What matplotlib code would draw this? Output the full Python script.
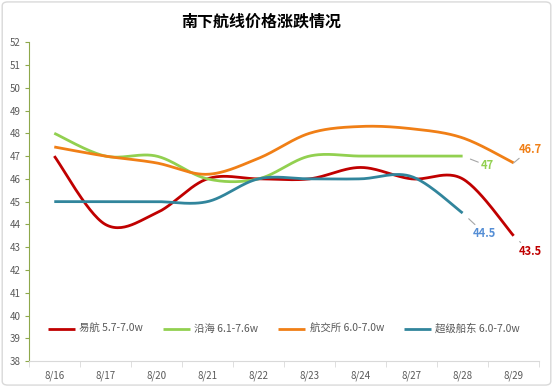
import numpy as np
import matplotlib.pyplot as plt
from matplotlib.patches import FancyBboxPatch

plt.rcParams['font.family'] = ['Noto Sans CJK SC', 'DejaVu Sans']

# datos
fechas = ['8/16', '8/17', '8/20', '8/21', '8/22', '8/23', '8/24', '8/27', '8/28', '8/29']
yihang = [47, 44, 44.5, 46, 46, 46, 46.5, 46, 46, 43.5]
yanhai = [48, 47, 47, 46, 46, 47, 47, 47, 47]
hangjiaosuo = [47.4, 47, 46.7, 46.2, 46.9, 48, 48.3, 48.2, 47.8, 46.7]
chaoji = [45, 45, 45, 45, 46, 46, 46, 46.1, 44.5]

nombres = ['易航 5.7-7.0w', '沿海 6.1-7.6w', '航交所 6.0-7.0w', '超级船东 6.0-7.0w']
colores = ['#C00000', '#92D050', '#F07F16', '#31859C']
color_etiqueta = ['#C00000', '#92D050', '#F07F16', '#558ED5']
# desplazamiento de las etiquetas finales (puntos)
offsets = [(12, -11.5), (18, -7), (12, 10), (16, -15)]


def suavizar(y, n=30):
    # curva tipo Excel (Catmull-Rom con tramos Bezier)
    x = np.arange(len(y), dtype=float)
    y = np.asarray(y, dtype=float)
    px, py = [], []
    for i in range(len(y) - 1):
        x0, y0 = x[max(i - 1, 0)], y[max(i - 1, 0)]
        x3, y3 = x[min(i + 2, len(y) - 1)], y[min(i + 2, len(y) - 1)]
        c1x = x[i] + (x[i + 1] - x0) / 6
        c1y = y[i] + (y[i + 1] - y0) / 6
        c2x = x[i + 1] - (x3 - x[i]) / 6
        c2y = y[i + 1] - (y3 - y[i]) / 6
        t = np.linspace(0, 1, n)
        bx = (1-t)**3*x[i] + 3*(1-t)**2*t*c1x + 3*(1-t)*t**2*c2x + t**3*x[i+1]
        by = (1-t)**3*y[i] + 3*(1-t)**2*t*c1y + 3*(1-t)*t**2*c2y + t**3*y[i+1]
        px.extend(bx)
        py.extend(by)
    return px, py


fig = plt.figure(figsize=(5.53, 3.87), dpi=100)
fig.patches.append(FancyBboxPatch((0.004, 0.005), 0.992, 0.99,
                                  boxstyle='round,pad=0,rounding_size=0.01',
                                  transform=fig.transFigure, fill=False,
                                  edgecolor='#D9D9D9', linewidth=1))
ax = fig.add_axes([0.052, 0.067, 0.923, 0.824])

series = [yihang, yanhai, hangjiaosuo, chaoji]
for serie, nombre, col, col_et, off in zip(series, nombres, colores, color_etiqueta, offsets):
    sx, sy = suavizar(serie)
    ax.plot(sx, sy, color=col, linewidth=2, label=nombre, solid_capstyle='butt')
    ultimo = len(serie) - 1
    ax.annotate(f'{serie[-1]:g}', xy=(ultimo, serie[-1]), xytext=off,
                textcoords='offset points', color=col_et, fontsize=8,
                fontweight='bold', va='center', ha='center',
                arrowprops=dict(arrowstyle='-', color='#A6A6A6', lw=0.8,
                                shrinkA=0, shrinkB=6))

ax.set_xlim(-0.5, len(fechas) - 0.5)
ax.set_ylim(38, 52)
ax.set_xticks(range(len(fechas)))
ax.set_xticklabels(fechas)
ax.set_xticks(np.arange(-0.5, len(fechas), 1), minor=True)
ax.set_yticks(range(38, 53))
ax.tick_params(axis='x', which='major', length=0, pad=7, labelsize=7, colors='#595959')
ax.tick_params(axis='x', which='minor', length=4, color='#D9D9D9')
ax.tick_params(axis='y', length=3, color='#8EA84B', labelsize=7, colors='#595959', pad=3)
ax.tick_params(axis='y', color='#8EA84B')

for lado in ['top', 'right']:
    ax.spines[lado].set_visible(False)
ax.spines['left'].set_color('#8EA84B')
ax.spines['bottom'].set_color('#D9D9D9')

fig.suptitle('南下航线价格涨跌情况', x=0.473, y=0.965, fontsize=11.5, fontweight='bold')

ax.legend(loc='lower center', bbox_to_anchor=(0.5, 0.055), ncol=4, frameon=False,
          fontsize=7.5, handlelength=2.6, handletextpad=0.4, columnspacing=1.9,
          labelcolor='#595959')

plt.savefig('out.png', dpi=100)
